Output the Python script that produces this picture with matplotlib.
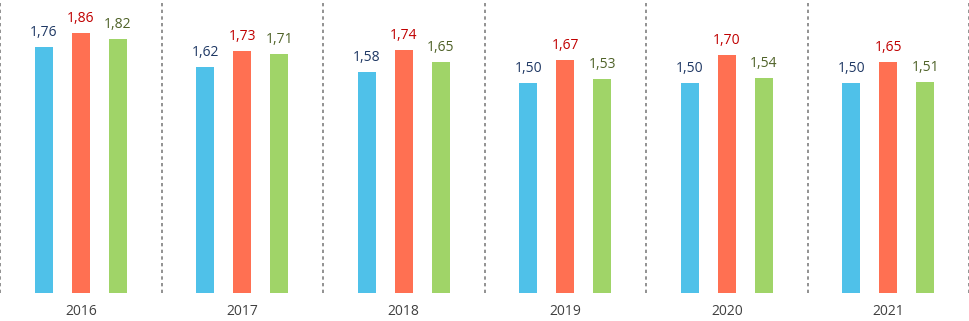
import matplotlib.pyplot as plt
import numpy as np

years = ['2016', '2017', '2018', '2019', '2020', '2021']
blue_vals = [1.76, 1.62, 1.58, 1.50, 1.50, 1.50]
red_vals = [1.86, 1.73, 1.74, 1.67, 1.70, 1.65]
green_vals = [1.82, 1.71, 1.65, 1.53, 1.54, 1.51]

bar_colors = ['#4FC1E9', '#FF7052', '#A0D468']
label_colors = ['#1F3864', '#C00000', '#4F6228']

plt.rcParams['font.family'] = ['Open Sans', 'DejaVu Sans']

fig = plt.figure(figsize=(9.69, 3.21), dpi=100)
ax = fig.add_axes([0, 293/321 * 0 + 28/321, 1, 293/321])

x = np.arange(len(years))
w = 0.111
gap = 0.229
for i, (vals, c, lc) in enumerate(zip([blue_vals, red_vals, green_vals], bar_colors, label_colors)):
    pos = x + (i - 1) * gap
    bars = ax.bar(pos, vals, width=w, color=c)
    for b, v in zip(bars, vals):
        ax.annotate(f'{v:.2f}'.replace('.', ','), (b.get_x() + b.get_width() / 2, v),
                    xytext=(0, 5), textcoords='offset points', ha='center', va='bottom',
                    color=lc, fontsize=10)

# dashed separators between years
for s in np.arange(len(years) + 1) - 0.5:
    ax.axvline(s, color='#7F7F7F', linestyle=(0, (2, 2)), linewidth=1.2)

ax.set_xlim(-0.5, len(years) - 0.5)
ax.set_ylim(0, 2.096)
ax.set_xticks(x)
ax.set_xticklabels(years, fontsize=10, color='#404040')
ax.tick_params(axis='x', length=0, pad=8)
ax.set_yticks([])
for sp in ax.spines.values():
    sp.set_visible(False)

fig.savefig('out.png', dpi=100)
